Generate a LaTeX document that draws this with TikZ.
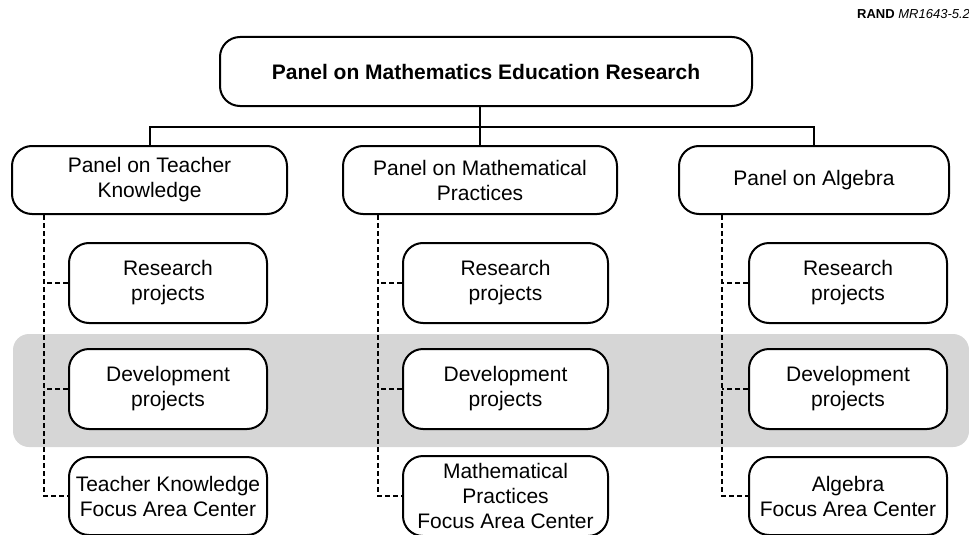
\documentclass[tikz,border=0pt]{standalone}
\usepackage{fontspec}
\setmainfont{Liberation Sans}
\definecolor{band}{HTML}{D6D6D6}
\begin{document}
\begin{tikzpicture}[x=1pt,y=-1pt,
 box/.style={draw, line width=2pt, rounded corners=20pt, fill=white, align=center, inner sep=0pt, font=\fontsize{21}{25}\selectfont},
 sub/.style={box, minimum width=198pt, minimum height=80pt},
 panel/.style={box, minimum height=68pt},
 conn/.style={line width=2pt},
 dsh/.style={line width=2pt, dash pattern=on 5pt off 3pt}]
\useasboundingbox (0,0) rectangle (969,535);
\fill[band, rounded corners=16pt] (13,334) rectangle (969,447);
\node[anchor=base west, inner sep=0pt, font=\fontsize{13}{15}\selectfont] (lbl) at (857,19) {\textbf{RAND} \textit{MR1643-5.2}};
\node[box, minimum width=532pt, minimum height=69pt, font=\bfseries\fontsize{21}{25}\selectfont] (T) at (486,71.5) {Panel on Mathematics Education Research};
\node[panel, minimum width=275pt] (P1) at (149.5,180) {Panel on Teacher\\Knowledge};
\node[panel, minimum width=274pt] (P2) at (480,180) {Panel on Mathematical\\Practices};
\node[panel, minimum width=270pt] (P3) at (814,180) {Panel on Algebra};
\coordinate (bus) at (0,127);
\draw[conn] (T.south -| P2.north) -- (P2.north);
\draw[conn] (P1.north) -- (P1.north |- bus) -- (P3.north |- bus) -- (P3.north);
% sub boxes
\node[sub] (R1) at (168,283) {Research\\projects};
\node[sub] (D1) at (168,389) {Development\\projects};
\node[sub, minimum height=78pt] (F1) at (168,496) {Teacher Knowledge\\Focus Area Center};
\node[sub, minimum width=205pt] (R2) at (505.5,283) {Research\\projects};
\node[sub, minimum width=205pt] (D2) at (505.5,389) {Development\\projects};
\node[sub, minimum width=205pt, minimum height=80pt] (F2) at (505.5,496) {Mathematical\\Practices\\Focus Area Center};
\node[sub] (R3) at (848,283) {Research\\projects};
\node[sub] (D3) at (848,389) {Development\\projects};
\node[sub, minimum height=78pt] (F3) at (848,496) {Algebra\\Focus Area Center};
\coordinate (t1) at (44,0);
\coordinate (t2) at (378,0);
\coordinate (t3) at (722,0);
\foreach \i in {1,2,3}{
  \draw[dsh] (P\i.south -| t\i) |- (F\i.west);
  \draw[dsh] (R\i.west) -- (R\i.west -| t\i);
  \draw[dsh] (D\i.west) -- (D\i.west -| t\i);
}
\end{tikzpicture}
\end{document}
